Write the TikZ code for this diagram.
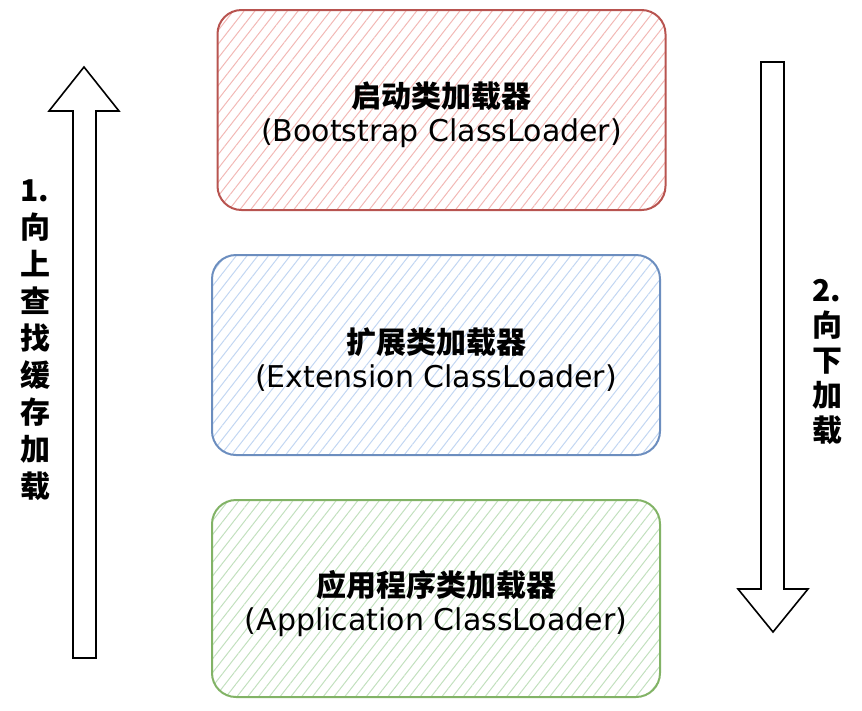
\documentclass[tikz,border=0pt]{standalone}
\usepackage{fontspec}
\setmainfont{Noto Sans CJK SC}
\newfontfamily\latinfont{DejaVu Sans}
\usetikzlibrary{positioning}
\usetikzlibrary{patterns.meta}

\definecolor{redline}{HTML}{B85450}
\definecolor{redhatch}{HTML}{F2B8B5}
\definecolor{blueline}{HTML}{6C8EBF}
\definecolor{bluehatch}{HTML}{C2D6F2}
\definecolor{greenline}{HTML}{82B366}
\definecolor{greenhatch}{HTML}{C2E0BE}

\tikzset{
	loaderbox/.style={draw=#1line, line width=2pt, rounded corners=24pt,
		pattern={Lines[angle=52,distance=8.5pt,line width=1pt]}, pattern color=#1hatch,
		minimum width=448pt, minimum height=200pt},
	loadertext/.style={align=center, font=\fontsize{30}{34}\selectfont},
	sidelabel/.style={align=center, font=\bfseries\fontsize{30}{37}\selectfont},
	bigarrow/.style={draw=black, line width=1.6pt, fill=white, line join=miter}
}

\begin{document}
\begin{tikzpicture}[x=1pt,y=-1pt]
	\useasboundingbox (0,0) rectangle (862,710);
	
	% the three loaders
	\node[loaderbox=red] (boot) at (441.5,110) {};
	\node[loaderbox=blue] (ext) at (436,355) {};
	\node[loaderbox=green, minimum height=197pt] (app) at (436,598.5) {};
	\node[loadertext] (boottext) at ([yshift=-5pt]boot.center) {\bfseries 启动类加载器\\{\latinfont (Bootstrap ClassLoader)}};
	\node[loadertext] (exttext) at ([yshift=-5pt]ext.center) {\bfseries 扩展类加载器\\{\latinfont (Extension ClassLoader)}};
	\node[loadertext] (apptext) at ([yshift=-5pt]app.center) {\bfseries 应用程序类加载器\\{\latinfont (Application ClassLoader)}};
	
	% up and down arrows
	\path (84,67) coordinate(uptip)
	(73,658) coordinate(upfoot);
	\draw[bigarrow] (upfoot) -- (73,111) -- (49,111) -- (uptip)
	-- (119,111) -- (96,111) -- (96,658) -- cycle;
	\path (773,632) coordinate(downtip)
	(761,62) coordinate(downtop);
	\draw[bigarrow] (downtop) -- (761,589) -- (738,589) -- (downtip)
	-- (808,589) -- (784,589) -- (784,62) -- cycle;
	
	\node[sidelabel] (upstep) at (35,340) {1.\\向\\上\\查\\找\\缓\\存\\加\\载};
	\node[sidelabel, font=\bfseries\fontsize{30}{35}\selectfont] (downstep) at (827,362) {2.\\向\\下\\加\\载};
	
\end{tikzpicture}
\end{document}
